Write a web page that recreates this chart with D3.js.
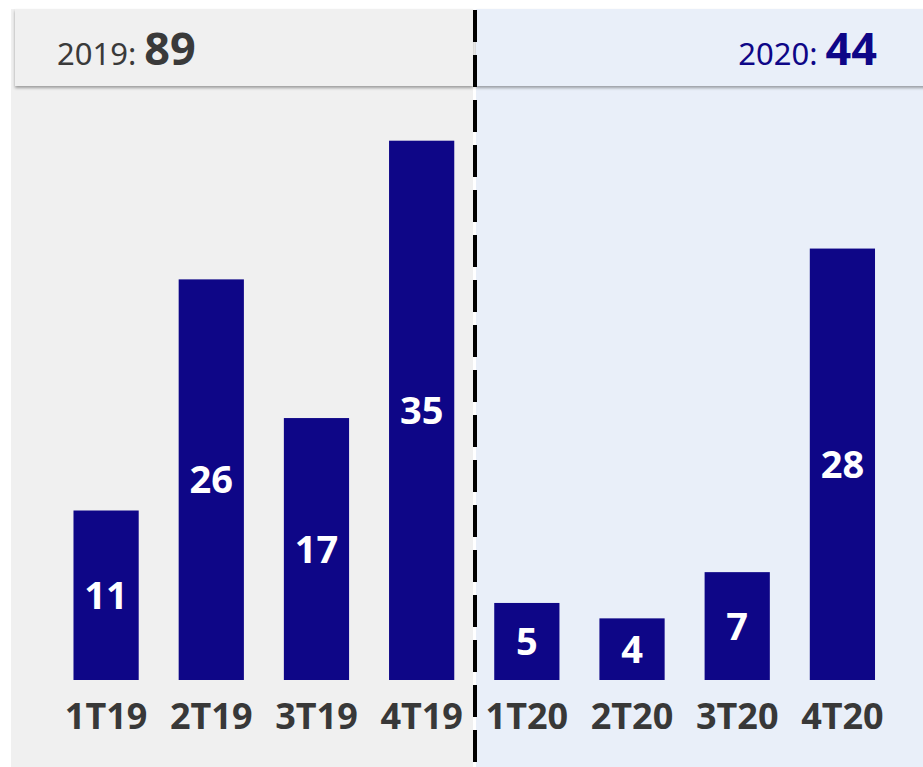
<!DOCTYPE html>
<meta charset="utf-8">
<style>
  body { margin: 0; background: #fff; }
  svg { display: block; font-family: "Noto Sans", "Open Sans", sans-serif; }
  .tick-label { fill: #383838; font-size: 36px; font-weight: 700; text-anchor: middle; }
  .value-label { fill: #fff; font-size: 38px; font-weight: 700; text-anchor: middle; }
</style>
<body>
<script src="https://cdn.jsdelivr.net/npm/d3@7/dist/d3.min.js"></script>
<script>

var width = 923,
    height = 767;

// data
var quarters = ["1T19", "2T19", "3T19", "4T19", "1T20", "2T20", "3T20", "4T20"];
var counts = [11, 26, 17, 35, 5, 4, 7, 28];
var years = ["2019", "2020"];
var yearTotals = [89, 44];

var barColor = "#0e0687";

var svg = d3.select("body").append("svg")
    .attr("width", width)
    .attr("height", height);

var defs = svg.append("defs");
var shadow = defs.append("filter")
    .attr("id", "shadow")
    .attr("x", "-5%").attr("y", "-20%")
    .attr("width", "110%").attr("height", "150%");
shadow.append("feDropShadow")
    .attr("dx", 0).attr("dy", 2)
    .attr("stdDeviation", 1.8)
    .attr("flood-color", "#000")
    .attr("flood-opacity", 0.35);

// panels (left = 2019, right = 2020)
var panels = [
  {x0: 11, x1: 473, hx0: 15, fill: "#f0f0f0", text: "#3a3a3a", anchor: "start", tx: 57},
  {x0: 476, x1: 923, hx0: 476, fill: "#e9eff9", text: barColor, anchor: "end", tx: 877}
];

svg.selectAll(".panel")
  .data(panels)
 .enter().append("rect")
  .attr("class", "panel")
  .attr("x", function(d) { return d.x0; })
  .attr("y", 9)
  .attr("width", function(d) { return d.x1 - d.x0; })
  .attr("height", height - 9)
  .attr("fill", function(d) { return d.fill; });

svg.selectAll(".header")
  .data(panels)
 .enter().append("rect")
  .attr("class", "header")
  .attr("x", function(d) { return d.hx0; })
  .attr("y", 9)
  .attr("width", function(d) { return d.x1 - d.hx0 + (d.anchor == "end" ? 4 : 0); })
  .attr("height", 77)
  .attr("fill", function(d) { return d.fill; })
  .attr("filter", "url(#shadow)");

var headerText = svg.selectAll(".header-text")
  .data(panels)
 .enter().append("text")
  .attr("class", "header-text")
  .attr("x", function(d) { return d.tx; })
  .attr("y", 65)
  .attr("text-anchor", function(d) { return d.anchor; })
  .attr("fill", function(d) { return d.text; });

headerText.append("tspan")
  .attr("font-size", "31px")
  .text(function(d, i) { return years[i] + ": "; });
headerText.append("tspan")
  .attr("font-size", "45px")
  .attr("font-weight", 700)
  .text(function(d, i) { return yearTotals[i]; });

// scales
var x = d3.scaleBand()
    .domain(quarters)
    .range([53.5, 895])
    .paddingInner(0.38)
    .paddingOuter(0.19);

var y = d3.scaleLinear()
    .domain([0, 35])
    .range([680, 140.7]);

svg.selectAll(".bar")
  .data(counts)
 .enter().append("rect")
  .attr("class", "bar")
  .attr("x", function(d, i) { return x(quarters[i]); })
  .attr("y", function(d) { return y(d); })
  .attr("width", x.bandwidth())
  .attr("height", function(d) { return y(0) - y(d); })
  .attr("fill", barColor);

svg.selectAll(".value-label")
  .data(counts)
 .enter().append("text")
  .attr("class", "value-label")
  .attr("x", function(d, i) { return x(quarters[i]) + x.bandwidth() / 2; })
  .attr("y", function(d) { return (y(d) + y(0)) / 2; })
  .attr("dy", "0.36em")
  .text(function(d) { return d; });

// category axis, labels only
var xAxis = svg.append("g")
    .attr("transform", "translate(0," + y(0) + ")")
    .call(d3.axisBottom(x).tickSize(0).tickPadding(0));
xAxis.select(".domain").remove();
xAxis.selectAll("text")
    .attr("class", "tick-label")
    .attr("y", 49)
    .attr("dy", 0)
    .attr("fill", null)
    .attr("font-size", null)
    .attr("font-family", null);
xAxis.attr("font-size", null).attr("font-family", null);

// dashed divider between the years
svg.append("line")
    .attr("x1", 475).attr("x2", 475)
    .attr("y1", 10).attr("y2", height)
    .attr("stroke", "#000")
    .attr("stroke-width", 4)
    .attr("stroke-dasharray", "32,13");

</script>
